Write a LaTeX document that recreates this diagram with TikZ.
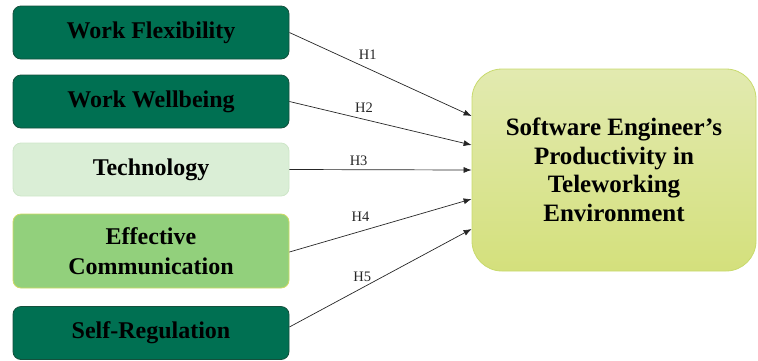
\documentclass[tikz,border=0pt]{standalone}
\usepackage{fontspec}
\setmainfont{Liberation Serif}
\usepackage{tikz}
\usetikzlibrary{positioning}
\usetikzlibrary{arrows.meta}
\definecolor{dkgreen}{RGB}{0,112,82}
\definecolor{dkgreenb}{RGB}{20,80,60}
\definecolor{ltgreen}{RGB}{218,238,214}
\definecolor{ltgreenb}{RGB}{206,230,200}
\definecolor{mdgreen}{RGB}{146,208,124}
\definecolor{mdgreenb}{RGB}{206,218,100}
\definecolor{outtop}{RGB}{226,234,176}
\definecolor{outbot}{RGB}{212,224,124}
\definecolor{outb}{RGB}{200,218,108}
\tikzset{
    factor/.style = {rectangle, rounded corners=8pt, thick, align=center,
        minimum width=276pt, minimum height=53pt, inner sep=0pt,
        font=\fontsize{24}{30}\selectfont\bfseries},
    factord/.style = {factor, draw=dkgreenb, fill=dkgreen},
    factorl/.style = {factor, draw=ltgreenb, fill=ltgreen},
    factorm/.style = {factor, draw=mdgreenb, fill=mdgreen, minimum height=74pt},
    outcome/.style = {rectangle, rounded corners=30pt, thick, align=center,
        draw=outb, top color=outtop, bottom color=outbot,
        minimum width=284pt, minimum height=202pt, inner sep=0pt,
        font=\fontsize{25}{28.5}\selectfont\bfseries},
    edgeh/.style = {-{Latex[length=8pt,width=6pt]}, line width=0.7pt, black!85},
    hlabel/.style = {font=\fontsize{14.5}{16}\selectfont, inner sep=1pt}
}
\begin{document}
\begin{tikzpicture}[x=1pt,y=-1pt]
\useasboundingbox (0,0) rectangle (758,360);
%
\node[factord] at (151, 32.5) (flex) {Work Flexibility};
\node[factord] at (151, 101.5) (well) {Work Wellbeing};
\node[factorl] at (151, 169.5) (tech) {Technology};
\node[factorm] at (151, 251) (comm) {Effective\\Communication};
\node[factord] at (151, 333) (self) {Self-Regulation};
%
\node[outcome] at (614, 170) (prod) {Software Engineer’s\\Productivity in\\Teleworking\\Environment};
%
\coordinate (in1) at ([yshift=54pt]prod.west);
\coordinate (in2) at ([yshift=25pt]prod.west);
\coordinate (in3) at (prod.west);
\coordinate (in4) at ([yshift=-29pt]prod.west);
\coordinate (in5) at ([yshift=-59pt]prod.west);
%
\draw[edgeh] (flex.east) -- node[hlabel, pos=.43, above=8pt] {H1} (in1);
\draw[edgeh] (well.east) -- node[hlabel, pos=.41, above=5pt] {H2} (in2);
\draw[edgeh] (tech.east) -- node[hlabel, pos=.38, above=3pt] {H3} (in3);
\draw[edgeh] ([yshift=-1pt]comm.east) -- node[hlabel, pos=.39, above=8pt] {H4} (in4);
\draw[edgeh] ([yshift=6pt]self.east) -- node[hlabel, pos=.40, above=5pt] {H5} (in5);

\end{tikzpicture}
\end{document}
